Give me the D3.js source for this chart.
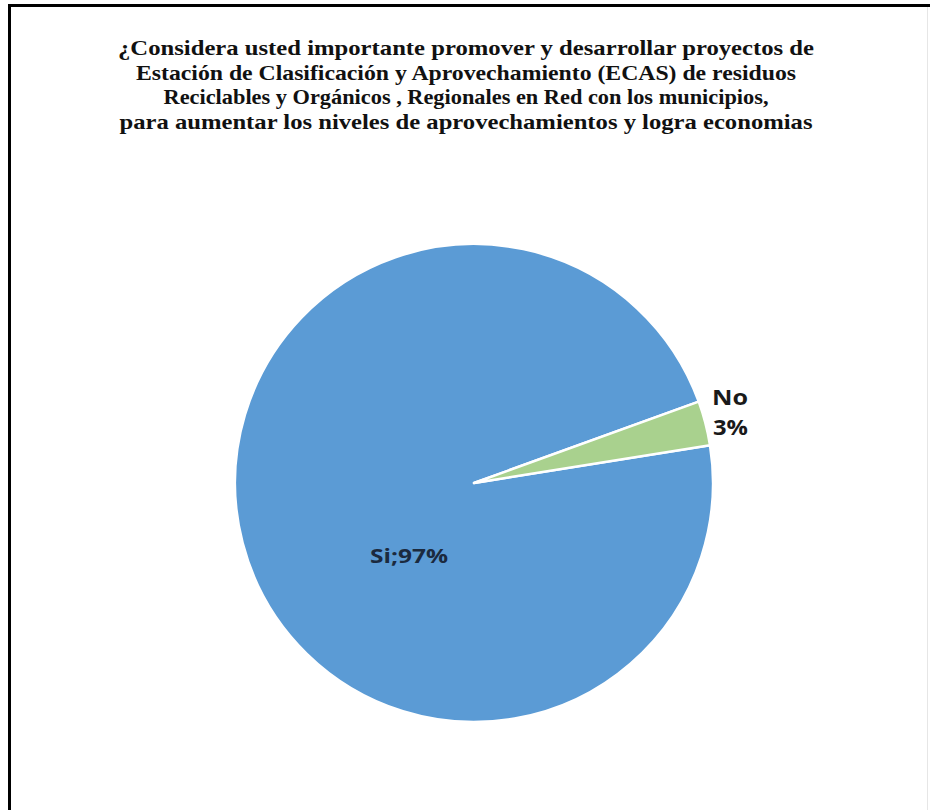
<!DOCTYPE html>
<html>
<head>
<meta charset="utf-8">
<script src="https://cdn.jsdelivr.net/npm/d3@7"></script>
<style>
html,body{margin:0;padding:0;background:#fff;}
svg{display:block;}
</style>
</head>
<body>
<svg id="chart" width="930" height="810"></svg>
<script>
const categories = ["Si", "No"];
const values = [97, 3];
const labels = ["Si;97%", "No\n3%"];
const colors = ["#5B9BD5", "#A9D18E"];
const titleLines = [
  "¿Considera usted importante promover y desarrollar proyectos de",
  "Estación de Clasificación y Aprovechamiento (ECAS) de residuos",
  "Reciclables y Orgánicos , Regionales en Red con los municipios,",
  "para aumentar los niveles de aprovechamientos y logra economias"
];

const svg = d3.select("#chart");
svg.append("rect").attr("x",0).attr("y",0).attr("width",930).attr("height",810).attr("fill","#fff");

// frame
svg.append("line").attr("x1",9.5).attr("x2",9.5).attr("y1",4).attr("y2",810)
  .attr("stroke","#000").attr("stroke-width",3);
svg.append("line").attr("x1",8).attr("x2",930).attr("y1",5.5).attr("y2",5.5)
  .attr("stroke","#000").attr("stroke-width",3);
svg.append("line").attr("x1",927.5).attr("x2",927.5).attr("y1",7).attr("y2",810)
  .attr("stroke","#e6e6e6").attr("stroke-width",1);

// title
const titleWidths = [696, 660, 605, 693];
const tg = svg.append("g");
titleLines.forEach((t,i)=>{
  tg.append("text")
    .attr("x",466).attr("y",55 + i*24.5)
    .attr("text-anchor","middle")
    .attr("font-family","'Liberation Serif','DejaVu Serif',serif")
    .attr("font-weight","bold")
    .attr("font-size",21.5)
    .attr("fill","#111")
    .attr("textLength", titleWidths[i])
    .attr("lengthAdjust","spacingAndGlyphs")
    .text(t);
});

// pie
const cx = 474, cy = 483, r = 239;
const deg = Math.PI/180;
const startAngle = 80.9*deg;
const pie = d3.pie().sort(null).value(d=>d.value)
  .startAngle(startAngle).endAngle(startAngle + 2*Math.PI);
const data = categories.map((c,i)=>({cat:c, value:values[i], color:colors[i], label:labels[i]}));
const arcs = pie(data);
const arc = d3.arc().innerRadius(0).outerRadius(r);
const g = svg.append("g").attr("transform",`translate(${cx},${cy})`);
g.selectAll("path").data(arcs).join("path")
  .attr("d",arc)
  .attr("fill",d=>d.data.color)
  .attr("stroke","#fff")
  .attr("stroke-width",2.5)
  .attr("stroke-linejoin","round");

// labels
const lf = "'Open Sans','Noto Sans',sans-serif";
svg.append("text")
  .attr("x", 370).attr("y", 563)
  .attr("font-family", lf).attr("font-weight","bold").attr("font-size",20)
  .attr("fill","#1b2a3f")
  .attr("textLength",78).attr("lengthAdjust","spacingAndGlyphs")
  .text(labels[0]);
const noLines = labels[1].split("\n");
const noText = svg.append("text")
  .attr("font-family", lf).attr("font-weight","bold").attr("font-size",21)
  .attr("fill","#1a1a1a");
noText.append("tspan").attr("x",712).attr("y",405).attr("textLength",36).attr("lengthAdjust","spacingAndGlyphs").text(noLines[0]);
noText.append("tspan").attr("x",713).attr("y",435).attr("textLength",35).attr("lengthAdjust","spacingAndGlyphs").text(noLines[1]);
</script>
</body>
</html>
